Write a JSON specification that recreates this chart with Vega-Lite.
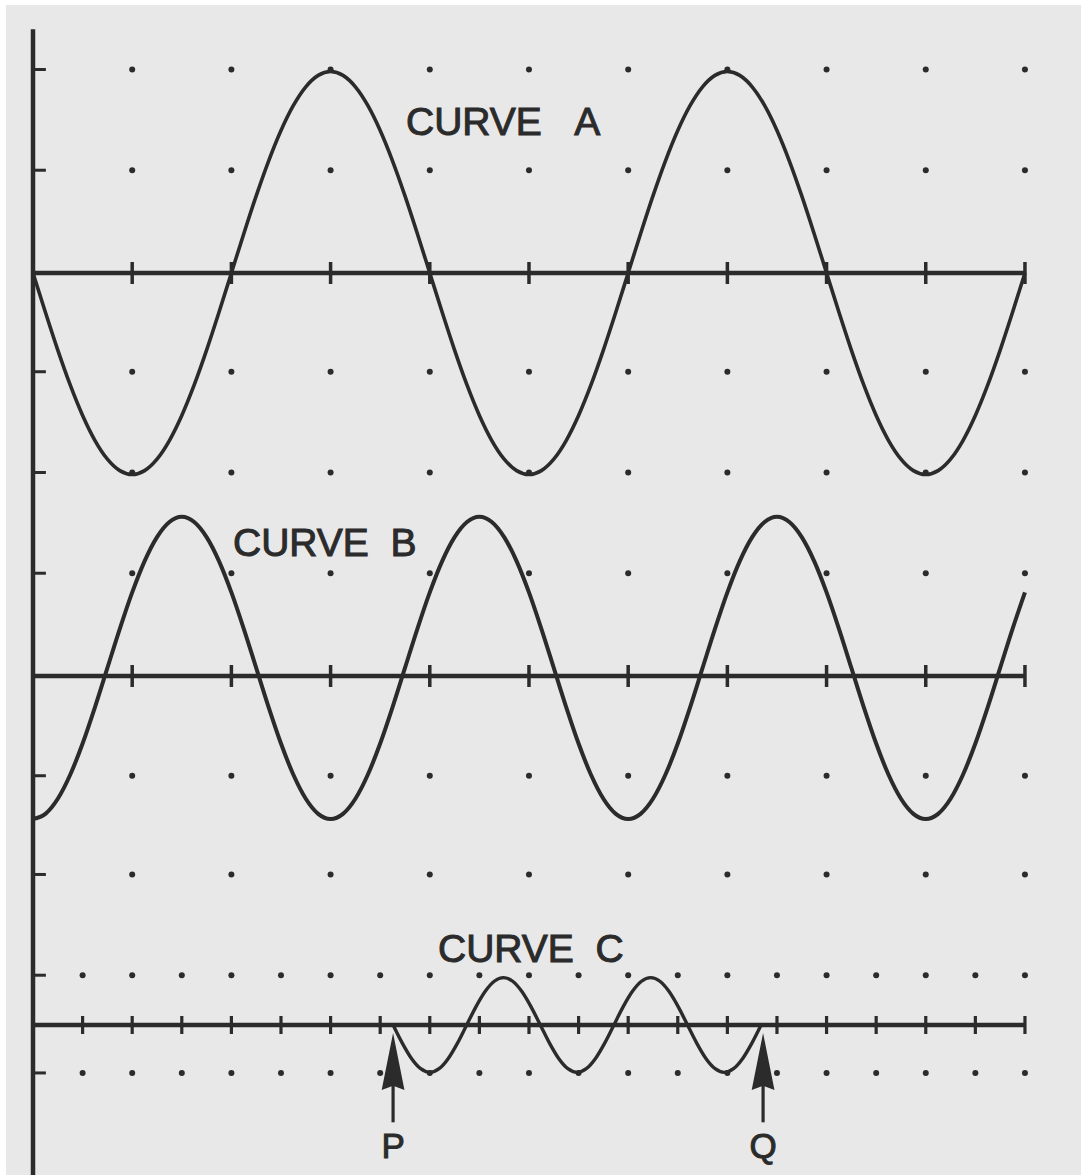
{
  "$schema": "https://vega.github.io/schema/vega-lite/v6.json",
  "width": 1075,
  "height": 1170,
  "autosize": {"type": "none"},
  "padding": {"left": 6, "top": 5, "right": 0, "bottom": 0},
  "background": "#ffffff",
  "config": {"view": {"stroke": null, "fill": "#e8e8e8"}},
  "datasets": {
    "axes": [
      {"x": 0, "x2": 10, "y": 0},
      {"x": 0, "x2": 10, "y": -4},
      {"x": 0, "x2": 10, "y": -7.464}
    ],
    "vaxis": [{"x": 0, "y": 2.42, "y2": -9.2}],
    "stubs": [
      {"x": 0, "x2": 0.13, "y": 2.02}, {"x": 0, "x2": 0.13, "y": 1.02}, {"x": 0, "x2": 0.13, "y": -0.98},
      {"x": 0, "x2": 0.13, "y": -1.98}, {"x": 0, "x2": 0.13, "y": -2.98}, {"x": 0, "x2": 0.13, "y": -4.99},
      {"x": 0, "x2": 0.13, "y": -5.97}, {"x": 0, "x2": 0.13, "y": -6.97}, {"x": 0, "x2": 0.13, "y": -7.94}
    ],
    "ticksAB": [
      {"x": 1, "y": 0}, {"x": 2, "y": 0}, {"x": 3, "y": 0}, {"x": 4, "y": 0}, {"x": 5, "y": 0},
      {"x": 6, "y": 0}, {"x": 7, "y": 0}, {"x": 8, "y": 0}, {"x": 9, "y": 0}, {"x": 10, "y": 0},
      {"x": 1, "y": -4}, {"x": 2, "y": -4}, {"x": 3, "y": -4}, {"x": 4, "y": -4}, {"x": 5, "y": -4},
      {"x": 6, "y": -4}, {"x": 7, "y": -4}, {"x": 8, "y": -4}, {"x": 9, "y": -4}, {"x": 10, "y": -4}
    ],
    "ticksC": [
      {"x": 0.5, "y": -7.464}, {"x": 1, "y": -7.464}, {"x": 1.5, "y": -7.464}, {"x": 2, "y": -7.464},
      {"x": 2.5, "y": -7.464}, {"x": 3, "y": -7.464}, {"x": 3.5, "y": -7.464}, {"x": 4, "y": -7.464},
      {"x": 4.5, "y": -7.464}, {"x": 5, "y": -7.464}, {"x": 5.5, "y": -7.464}, {"x": 6, "y": -7.464},
      {"x": 6.5, "y": -7.464}, {"x": 7, "y": -7.464}, {"x": 7.5, "y": -7.464}, {"x": 8, "y": -7.464},
      {"x": 8.5, "y": -7.464}, {"x": 9, "y": -7.464}, {"x": 9.5, "y": -7.464}, {"x": 10, "y": -7.464}
    ],
    "dots": [
      {"x": 1, "y": 2.02}, {"x": 2, "y": 2.02}, {"x": 3, "y": 2.02}, {"x": 4, "y": 2.02}, {"x": 5, "y": 2.02}, {"x": 6, "y": 2.02}, {"x": 7, "y": 2.02}, {"x": 8, "y": 2.02}, {"x": 9, "y": 2.02}, {"x": 10, "y": 2.02},
      {"x": 1, "y": 1.02}, {"x": 2, "y": 1.02}, {"x": 3, "y": 1.02}, {"x": 4, "y": 1.02}, {"x": 5, "y": 1.02}, {"x": 6, "y": 1.02}, {"x": 7, "y": 1.02}, {"x": 8, "y": 1.02}, {"x": 9, "y": 1.02}, {"x": 10, "y": 1.02},
      {"x": 1, "y": -0.98}, {"x": 2, "y": -0.98}, {"x": 3, "y": -0.98}, {"x": 4, "y": -0.98}, {"x": 5, "y": -0.98}, {"x": 6, "y": -0.98}, {"x": 7, "y": -0.98}, {"x": 8, "y": -0.98}, {"x": 9, "y": -0.98}, {"x": 10, "y": -0.98},
      {"x": 1, "y": -1.98}, {"x": 2, "y": -1.98}, {"x": 3, "y": -1.98}, {"x": 4, "y": -1.98}, {"x": 5, "y": -1.98}, {"x": 6, "y": -1.98}, {"x": 7, "y": -1.98}, {"x": 8, "y": -1.98}, {"x": 9, "y": -1.98}, {"x": 10, "y": -1.98},
      {"x": 1, "y": -2.98}, {"x": 2, "y": -2.98}, {"x": 3, "y": -2.98}, {"x": 4, "y": -2.98}, {"x": 5, "y": -2.98}, {"x": 6, "y": -2.98}, {"x": 7, "y": -2.98}, {"x": 8, "y": -2.98}, {"x": 9, "y": -2.98}, {"x": 10, "y": -2.98},
      {"x": 1, "y": -4.99}, {"x": 2, "y": -4.99}, {"x": 3, "y": -4.99}, {"x": 4, "y": -4.99}, {"x": 5, "y": -4.99}, {"x": 6, "y": -4.99}, {"x": 7, "y": -4.99}, {"x": 8, "y": -4.99}, {"x": 9, "y": -4.99}, {"x": 10, "y": -4.99},
      {"x": 1, "y": -5.97}, {"x": 2, "y": -5.97}, {"x": 3, "y": -5.97}, {"x": 4, "y": -5.97}, {"x": 5, "y": -5.97}, {"x": 6, "y": -5.97}, {"x": 7, "y": -5.97}, {"x": 8, "y": -5.97}, {"x": 9, "y": -5.97}, {"x": 10, "y": -5.97},
      {"x": 0.5, "y": -6.97}, {"x": 1, "y": -6.97}, {"x": 1.5, "y": -6.97}, {"x": 2, "y": -6.97}, {"x": 2.5, "y": -6.97}, {"x": 3, "y": -6.97}, {"x": 3.5, "y": -6.97}, {"x": 4, "y": -6.97}, {"x": 4.5, "y": -6.97}, {"x": 5, "y": -6.97},
      {"x": 5.5, "y": -6.97}, {"x": 6, "y": -6.97}, {"x": 6.5, "y": -6.97}, {"x": 7, "y": -6.97}, {"x": 7.5, "y": -6.97}, {"x": 8, "y": -6.97}, {"x": 8.5, "y": -6.97}, {"x": 9, "y": -6.97}, {"x": 9.5, "y": -6.97}, {"x": 10, "y": -6.97},
      {"x": 0.5, "y": -7.94}, {"x": 1, "y": -7.94}, {"x": 1.5, "y": -7.94}, {"x": 2, "y": -7.94}, {"x": 2.5, "y": -7.94}, {"x": 3, "y": -7.94}, {"x": 3.5, "y": -7.94}, {"x": 4, "y": -7.94}, {"x": 4.5, "y": -7.94}, {"x": 5, "y": -7.94},
      {"x": 5.5, "y": -7.94}, {"x": 6, "y": -7.94}, {"x": 6.5, "y": -7.94}, {"x": 7, "y": -7.94}, {"x": 7.5, "y": -7.94}, {"x": 8, "y": -7.94}, {"x": 8.5, "y": -7.94}, {"x": 9, "y": -7.94}, {"x": 9.5, "y": -7.94}, {"x": 10, "y": -7.94}
    ],
    "ab": [
      {"x": 0, "a": 0, "b": -5.42}, {"x": 0.125, "a": -0.3902, "b": -5.3689}, {"x": 0.25, "a": -0.7654, "b": -5.219}, {"x": 0.375, "a": -1.1111, "b": -4.9807},
      {"x": 0.5, "a": -1.4142, "b": -4.67}, {"x": 0.625, "a": -1.6629, "b": -4.3082}, {"x": 0.75, "a": -1.8478, "b": -3.92}, {"x": 0.875, "a": -1.9616, "b": -3.5318},
      {"x": 1, "a": -2, "b": -3.17}, {"x": 1.125, "a": -1.9616, "b": -2.8593}, {"x": 1.25, "a": -1.8478, "b": -2.621}, {"x": 1.375, "a": -1.6629, "b": -2.4711},
      {"x": 1.5, "a": -1.4142, "b": -2.42}, {"x": 1.625, "a": -1.1111, "b": -2.4711}, {"x": 1.75, "a": -0.7654, "b": -2.621}, {"x": 1.875, "a": -0.3902, "b": -2.8593},
      {"x": 2, "a": 0, "b": -3.17}, {"x": 2.125, "a": 0.3902, "b": -3.5318}, {"x": 2.25, "a": 0.7654, "b": -3.92}, {"x": 2.375, "a": 1.1111, "b": -4.3082},
      {"x": 2.5, "a": 1.4142, "b": -4.67}, {"x": 2.625, "a": 1.6629, "b": -4.9807}, {"x": 2.75, "a": 1.8478, "b": -5.219}, {"x": 2.875, "a": 1.9616, "b": -5.3689},
      {"x": 3, "a": 2, "b": -5.42}, {"x": 3.125, "a": 1.9616, "b": -5.3689}, {"x": 3.25, "a": 1.8478, "b": -5.219}, {"x": 3.375, "a": 1.6629, "b": -4.9807},
      {"x": 3.5, "a": 1.4142, "b": -4.67}, {"x": 3.625, "a": 1.1111, "b": -4.3082}, {"x": 3.75, "a": 0.7654, "b": -3.92}, {"x": 3.875, "a": 0.3902, "b": -3.5318},
      {"x": 4, "a": 0, "b": -3.17}, {"x": 4.125, "a": -0.3902, "b": -2.8593}, {"x": 4.25, "a": -0.7654, "b": -2.621}, {"x": 4.375, "a": -1.1111, "b": -2.4711},
      {"x": 4.5, "a": -1.4142, "b": -2.42}, {"x": 4.625, "a": -1.6629, "b": -2.4711}, {"x": 4.75, "a": -1.8478, "b": -2.621}, {"x": 4.875, "a": -1.9616, "b": -2.8593},
      {"x": 5, "a": -2, "b": -3.17}, {"x": 5.125, "a": -1.9616, "b": -3.5318}, {"x": 5.25, "a": -1.8478, "b": -3.92}, {"x": 5.375, "a": -1.6629, "b": -4.3082},
      {"x": 5.5, "a": -1.4142, "b": -4.67}, {"x": 5.625, "a": -1.1111, "b": -4.9807}, {"x": 5.75, "a": -0.7654, "b": -5.219}, {"x": 5.875, "a": -0.3902, "b": -5.3689},
      {"x": 6, "a": 0, "b": -5.42}, {"x": 6.125, "a": 0.3902, "b": -5.3689}, {"x": 6.25, "a": 0.7654, "b": -5.219}, {"x": 6.375, "a": 1.1111, "b": -4.9807},
      {"x": 6.5, "a": 1.4142, "b": -4.67}, {"x": 6.625, "a": 1.6629, "b": -4.3082}, {"x": 6.75, "a": 1.8478, "b": -3.92}, {"x": 6.875, "a": 1.9616, "b": -3.5318},
      {"x": 7, "a": 2, "b": -3.17}, {"x": 7.125, "a": 1.9616, "b": -2.8593}, {"x": 7.25, "a": 1.8478, "b": -2.621}, {"x": 7.375, "a": 1.6629, "b": -2.4711},
      {"x": 7.5, "a": 1.4142, "b": -2.42}, {"x": 7.625, "a": 1.1111, "b": -2.4711}, {"x": 7.75, "a": 0.7654, "b": -2.621}, {"x": 7.875, "a": 0.3902, "b": -2.8593},
      {"x": 8, "a": 0, "b": -3.17}, {"x": 8.125, "a": -0.3902, "b": -3.5318}, {"x": 8.25, "a": -0.7654, "b": -3.92}, {"x": 8.375, "a": -1.1111, "b": -4.3082},
      {"x": 8.5, "a": -1.4142, "b": -4.67}, {"x": 8.625, "a": -1.6629, "b": -4.9807}, {"x": 8.75, "a": -1.8478, "b": -5.219}, {"x": 8.875, "a": -1.9616, "b": -5.3689},
      {"x": 9, "a": -2, "b": -5.42}, {"x": 9.125, "a": -1.9616, "b": -5.3689}, {"x": 9.25, "a": -1.8478, "b": -5.219}, {"x": 9.375, "a": -1.6629, "b": -4.9807},
      {"x": 9.5, "a": -1.4142, "b": -4.67}, {"x": 9.625, "a": -1.1111, "b": -4.3082}, {"x": 9.75, "a": -0.7654, "b": -3.92}, {"x": 9.875, "a": -0.3902, "b": -3.5318},
      {"x": 10, "a": 0, "b": -3.17}
    ],
    "c": [
      {"x": 3.63, "c": -7.464}, {"x": 3.7228, "c": -7.6439}, {"x": 3.8155, "c": -7.7963}, {"x": 3.9083, "c": -7.8982},
      {"x": 4.001, "c": -7.934}, {"x": 4.0938, "c": -7.8982}, {"x": 4.1865, "c": -7.7963}, {"x": 4.2793, "c": -7.6439},
      {"x": 4.372, "c": -7.464}, {"x": 4.4648, "c": -7.2841}, {"x": 4.5575, "c": -7.1317}, {"x": 4.6503, "c": -7.0298},
      {"x": 4.743, "c": -6.994}, {"x": 4.8358, "c": -7.0298}, {"x": 4.9285, "c": -7.1317}, {"x": 5.0213, "c": -7.2841},
      {"x": 5.114, "c": -7.464}, {"x": 5.2068, "c": -7.6439}, {"x": 5.2995, "c": -7.7963}, {"x": 5.3923, "c": -7.8982},
      {"x": 5.485, "c": -7.934}, {"x": 5.5778, "c": -7.8982}, {"x": 5.6705, "c": -7.7963}, {"x": 5.7633, "c": -7.6439},
      {"x": 5.856, "c": -7.464}, {"x": 5.9488, "c": -7.2841}, {"x": 6.0415, "c": -7.1317}, {"x": 6.1343, "c": -7.0298},
      {"x": 6.227, "c": -6.994}, {"x": 6.3198, "c": -7.0298}, {"x": 6.4125, "c": -7.1317}, {"x": 6.5053, "c": -7.2841},
      {"x": 6.598, "c": -7.464}, {"x": 6.6908, "c": -7.6439}, {"x": 6.7835, "c": -7.7963}, {"x": 6.8763, "c": -7.8982},
      {"x": 6.969, "c": -7.934}, {"x": 7.0618, "c": -7.8982}, {"x": 7.1545, "c": -7.7963}, {"x": 7.2473, "c": -7.6439},
      {"x": 7.34, "c": -7.464}
    ],
    "labels": [
      {"x": 3.76, "y": 1.37, "t": "CURVE\u00a0\u00a0\u00a0A"},
      {"x": 2.016, "y": -2.806, "t": "CURVE\u00a0\u00a0B"},
      {"x": 4.083, "y": -6.839, "t": "CURVE\u00a0\u00a0C"}
    ],
    "arrows": [
      {"x": 3.63, "label": "P"},
      {"x": 7.36, "label": "Q"}
    ]
  },
  "layer": [
    {
      "data": {"name": "axes"},
      "mark": {"type": "rule", "color": "#2b2b2b", "strokeWidth": 4.5},
      "encoding": {
        "x": {"field": "x", "type": "quantitative", "scale": {"domain": [-0.2722, 10.565], "nice": false, "zero": false}, "axis": null},
        "x2": {"field": "x2"},
        "y": {"field": "y", "type": "quantitative", "scale": {"domain": [-8.953, 2.66], "nice": false, "zero": false}, "axis": null}
      }
    },
    {
      "data": {"name": "vaxis"},
      "mark": {"type": "rule", "color": "#2b2b2b", "strokeWidth": 4.5},
      "encoding": {
        "x": {"field": "x", "type": "quantitative", "scale": {"domain": [-0.2722, 10.565], "nice": false, "zero": false}, "axis": null},
        "y": {"field": "y", "type": "quantitative", "scale": {"domain": [-8.953, 2.66], "nice": false, "zero": false}, "axis": null},
        "y2": {"field": "y2"}
      }
    },
    {
      "data": {"name": "stubs"},
      "mark": {"type": "rule", "color": "#2b2b2b", "strokeWidth": 3},
      "encoding": {
        "x": {"field": "x", "type": "quantitative", "scale": {"domain": [-0.2722, 10.565], "nice": false, "zero": false}, "axis": null},
        "x2": {"field": "x2"},
        "y": {"field": "y", "type": "quantitative", "scale": {"domain": [-8.953, 2.66], "nice": false, "zero": false}, "axis": null}
      }
    },
    {
      "data": {"name": "ticksAB"},
      "mark": {"type": "tick", "orient": "vertical", "size": 22, "thickness": 3.5, "color": "#2b2b2b", "opacity": 1},
      "encoding": {
        "x": {"field": "x", "type": "quantitative", "scale": {"domain": [-0.2722, 10.565], "nice": false, "zero": false}, "axis": null},
        "y": {"field": "y", "type": "quantitative", "scale": {"domain": [-8.953, 2.66], "nice": false, "zero": false}, "axis": null}
      }
    },
    {
      "data": {"name": "ticksC"},
      "mark": {"type": "tick", "orient": "vertical", "size": 18, "thickness": 3.2, "color": "#2b2b2b", "opacity": 1},
      "encoding": {
        "x": {"field": "x", "type": "quantitative", "scale": {"domain": [-0.2722, 10.565], "nice": false, "zero": false}, "axis": null},
        "y": {"field": "y", "type": "quantitative", "scale": {"domain": [-8.953, 2.66], "nice": false, "zero": false}, "axis": null}
      }
    },
    {
      "data": {"name": "dots"},
      "mark": {"type": "point", "filled": true, "size": 36, "color": "#2b2b2b", "opacity": 1, "shape": "circle"},
      "encoding": {
        "x": {"field": "x", "type": "quantitative", "scale": {"domain": [-0.2722, 10.565], "nice": false, "zero": false}, "axis": null},
        "y": {"field": "y", "type": "quantitative", "scale": {"domain": [-8.953, 2.66], "nice": false, "zero": false}, "axis": null}
      }
    },
    {
      "data": {"name": "ab"},
      "mark": {"type": "line", "color": "#2b2b2b", "strokeWidth": 3.6, "interpolate": "monotone"},
      "encoding": {
        "x": {"field": "x", "type": "quantitative", "scale": {"domain": [-0.2722, 10.565], "nice": false, "zero": false}, "axis": null},
        "y": {"field": "a", "type": "quantitative", "scale": {"domain": [-8.953, 2.66], "nice": false, "zero": false}, "axis": null}
      }
    },
    {
      "data": {"name": "ab"},
      "mark": {"type": "line", "color": "#2b2b2b", "strokeWidth": 4, "interpolate": "monotone"},
      "encoding": {
        "x": {"field": "x", "type": "quantitative", "scale": {"domain": [-0.2722, 10.565], "nice": false, "zero": false}, "axis": null},
        "y": {"field": "b", "type": "quantitative", "scale": {"domain": [-8.953, 2.66], "nice": false, "zero": false}, "axis": null}
      }
    },
    {
      "data": {"name": "c"},
      "mark": {"type": "line", "color": "#2b2b2b", "strokeWidth": 3.4, "interpolate": "monotone"},
      "encoding": {
        "x": {"field": "x", "type": "quantitative", "scale": {"domain": [-0.2722, 10.565], "nice": false, "zero": false}, "axis": null},
        "y": {"field": "c", "type": "quantitative", "scale": {"domain": [-8.953, 2.66], "nice": false, "zero": false}, "axis": null}
      }
    },
    {
      "data": {"name": "labels"},
      "mark": {"type": "text", "font": "Liberation Sans", "fontSize": 39, "color": "#2b2b2b", "stroke": "#2b2b2b", "strokeWidth": 1, "align": "left", "baseline": "alphabetic"},
      "encoding": {
        "x": {"field": "x", "type": "quantitative", "scale": {"domain": [-0.2722, 10.565], "nice": false, "zero": false}, "axis": null},
        "y": {"field": "y", "type": "quantitative", "scale": {"domain": [-8.953, 2.66], "nice": false, "zero": false}, "axis": null},
        "text": {"field": "t"}
      }
    },
    {
      "data": {"name": "arrows"},
      "mark": {"type": "point", "filled": true, "size": 3249, "color": "#2b2b2b", "opacity": 1, "shape": "M0,-1L0.4,1L0,0.85L-0.4,1Z"},
      "encoding": {
        "x": {"field": "x", "type": "quantitative", "scale": {"domain": [-0.2722, 10.565], "nice": false, "zero": false}, "axis": null},
        "y": {"datum": -7.826, "type": "quantitative", "scale": {"domain": [-8.953, 2.66], "nice": false, "zero": false}, "axis": null}
      }
    },
    {
      "data": {"name": "arrows"},
      "mark": {"type": "rule", "color": "#2b2b2b", "strokeWidth": 3.2},
      "encoding": {
        "x": {"field": "x", "type": "quantitative", "scale": {"domain": [-0.2722, 10.565], "nice": false, "zero": false}, "axis": null},
        "y": {"datum": -8.0, "type": "quantitative", "scale": {"domain": [-8.953, 2.66], "nice": false, "zero": false}, "axis": null},
        "y2": {"datum": -8.43}
      }
    },
    {
      "data": {"name": "arrows"},
      "mark": {"type": "text", "font": "Liberation Sans", "fontSize": 35, "color": "#2b2b2b", "stroke": "#2b2b2b", "strokeWidth": 1, "align": "center", "baseline": "alphabetic"},
      "encoding": {
        "x": {"field": "x", "type": "quantitative", "scale": {"domain": [-0.2722, 10.565], "nice": false, "zero": false}, "axis": null},
        "y": {"datum": -8.784, "type": "quantitative", "scale": {"domain": [-8.953, 2.66], "nice": false, "zero": false}, "axis": null},
        "text": {"field": "label"}
      }
    }
  ]
}
